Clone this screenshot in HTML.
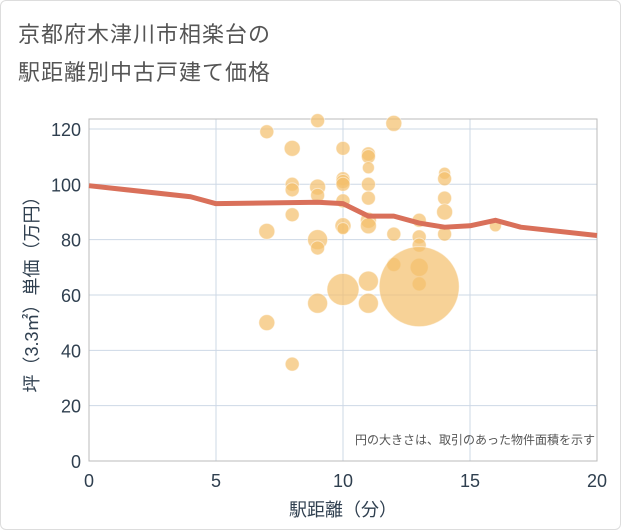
<!DOCTYPE html>
<html><head><meta charset="utf-8"><style>
body{margin:0;background:#fff;font-family:"Liberation Sans","Noto Sans CJK JP",sans-serif}
#wrap{position:relative;width:619px;height:528px;border:1px solid #ddd;border-radius:6px;overflow:hidden;background:#fff}
.t{position:absolute;left:17px;font-size:22px;color:#555;letter-spacing:1px}
</style></head><body>
<div id="wrap">
<div class="t" style="top:16px">京都府木津川市相楽台の</div>
<div class="t" style="top:54px">駅距離別中古戸建て価格</div>
<svg id="c" width="621" height="530" style="position:absolute;left:0;top:0"></svg>
</div>
<script>
const xTicks=[0,5,10,15,20];
const yTicks=[0,20,40,60,80,100,120];
const bx=[7,7,7,8,8,8,8,8,9,9,9,9,9,9,10,10,10,10,10,10,10,10,11,11,11,11,11,11,11,11,11,12,12,12,13,13,13,13,13,13,14,14,14,14,14,16];
const by=[119,83,50,113,100,98,89,35,123,99,96,80,77,57,113,102,101,100,94,85,84,62,111,110,106,100,95,87,85,65,57,122,82,71,87,81,78,70,64,63,104,102,95,90,82,85];
const bs=[7,8,8,8,7,7,7,7,7,8,7,10,7,10,7,7,7,7,7,8,6,16,7,7,6,7,7,8,8,10,10,8,7,7,7,7,7,9,7,40,6,7,7,8,7,6];
const lx=[0,4,5,9,10,11,12,13,14,15,16,17,20];
const ly=[99.5,95.5,93,93.5,93,88.5,88.5,86,84.5,85,87,84.5,81.5];
const X=v=>88+v*25.4, Y=v=>460-v*2.767;
const svg=document.getElementById('c');const NS='http://www.w3.org/2000/svg';
function mk(t,a){const e=document.createElementNS(NS,t);for(const k in a)e.setAttribute(k,a[k]);svg.appendChild(e);return e;}
yTicks.forEach(v=>{const l=mk('line',{x1:88,x2:596,y1:Y(v),y2:Y(v),stroke:'#cdd8e6','stroke-width':1});


const t=mk('text',{x:80,y:Y(v)+7,'text-anchor':'end','font-size':18,fill:'#2f3f4f'});t.textContent=v;

});
xTicks.forEach(v=>{const l=mk('line',{x1:X(v),x2:X(v),y1:118,y2:460,stroke:'#cdd8e6','stroke-width':1});


const t=mk('text',{x:X(v),y:486,'text-anchor':'middle','font-size':18,fill:'#2f3f4f'});t.textContent=v;

});
const fr=mk('rect',{x:88,y:118,width:508,height:342,fill:'none',stroke:'#bbb'});


bx.forEach((v,i)=>{const c=mk('circle',{cx:X(v),cy:Y(by[i]),r:bs[i],fill:'#f3bf6b','fill-opacity':0.7,stroke:'#fff','stroke-opacity':0.5});

});
const p=mk('polyline',{points:lx.map((v,i)=>X(v)+','+Y(ly[i])).join(' '),fill:'none',stroke:'#d9705a','stroke-width':5,'stroke-linejoin':'round'});


const n=mk('text',{x:594,y:443,'text-anchor':'end','font-size':12,fill:'#555'});n.textContent='円の大きさは、取引のあった物件面積を示す';


const xt=mk('text',{x:342,y:515,'text-anchor':'middle','font-size':18,fill:'#2f3f4f'});xt.textContent='駅距離（分）';


const yt=mk('text',{x:0,y:0,'text-anchor':'middle','font-size':18,fill:'#2f3f4f',transform:'translate(37,289) rotate(-90)'});yt.textContent='坪（3.3㎡）単価（万円）';


</script>
</body></html>
